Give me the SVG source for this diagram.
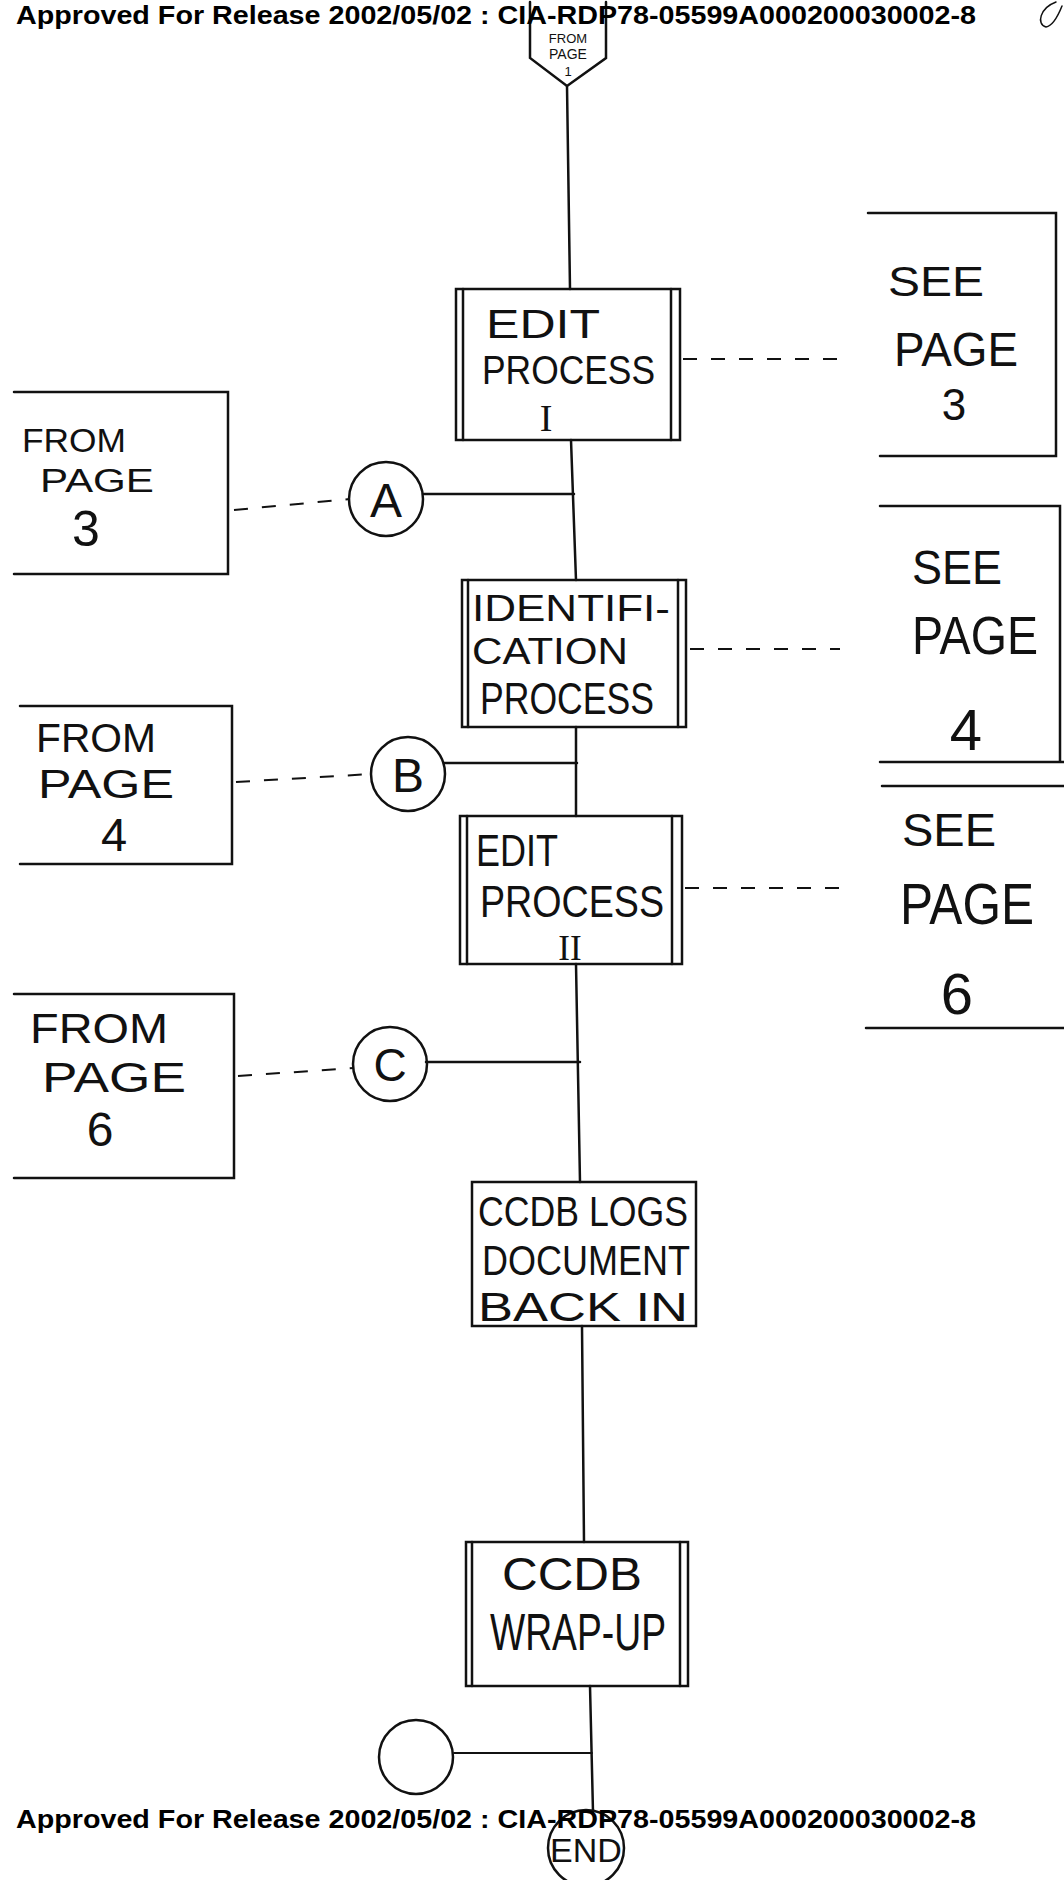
<svg xmlns="http://www.w3.org/2000/svg" width="1064" height="1880" viewBox="0 0 1064 1880">
<style>
.ln{fill:none;stroke:#111;stroke-width:2.5;stroke-linecap:round}
.dash{fill:none;stroke:#111;stroke-width:2;stroke-dasharray:14 14}
.hw{font-family:"Liberation Sans","DejaVu Sans",sans-serif;fill:#111}
.rom{font-family:"Liberation Serif","DejaVu Serif",serif;fill:#111}
.hdr{font-family:"Liberation Sans",Arial,sans-serif;font-weight:bold;font-size:26px;fill:#000}
</style>
<rect width="1064" height="1880" fill="#fff"/>

<g id="connectors">
<path class="ln" d="M567 86 L570 289"/>
<path class="ln" d="M571 440 L576 580"/>
<path class="ln" d="M576 727 L576 816"/>
<path class="ln" d="M576 964 L580 1182"/>
<path class="ln" d="M582 1326 L584 1542"/>
<path class="ln" d="M590 1686 L593 1812"/>
<path class="ln" d="M423 494 L574 494"/>
<path class="ln" d="M444 763 L577 763"/>
<path class="ln" d="M426 1062 L580 1062"/>
<path class="ln" d="M454 1753 L592 1753" style="stroke-width:1.8"/>
<path class="dash" d="M683 359 L840 359"/>
<path class="dash" d="M690 649 L840 649"/>
<path class="dash" d="M685 888 L840 888"/>
<path class="dash" d="M234 510 L350 499"/>
<path class="dash" d="M236 782 L372 774"/>
<path class="dash" d="M238 1076 L354 1068"/>
</g>

<g id="from-page-1">
<path class="ln" d="M530 2 L530 58 L567 86 L606 58 L606 2"/>
<text class="hw" x="568" y="43" font-size="13" text-anchor="middle">FROM</text>
<text class="hw" x="568" y="59" font-size="14" text-anchor="middle">PAGE</text>
<text class="hw" x="568" y="76" font-size="13" text-anchor="middle">1</text>
</g>

<g id="edit-process-1">
<rect class="ln" x="456" y="289" width="224" height="151"/>
<path class="ln" d="M463 289 V440 M671 289 V440"/>
<text class="hw" x="486" y="338" font-size="40" textLength="114" lengthAdjust="spacingAndGlyphs">EDIT</text>
<text class="hw" x="482" y="384" font-size="40" textLength="173" lengthAdjust="spacingAndGlyphs">PROCESS</text>
<text class="rom" x="546" y="431" font-size="38" text-anchor="middle">I</text>
</g>

<g id="see-page-3">
<path class="ln" d="M868 213 L1056 213 L1056 456 L880 456"/>
<text class="hw" x="888" y="296" font-size="42" textLength="96" lengthAdjust="spacingAndGlyphs">SEE</text>
<text class="hw" x="894" y="366" font-size="48" textLength="124" lengthAdjust="spacingAndGlyphs">PAGE</text>
<text class="hw" x="954" y="420" font-size="44" text-anchor="middle">3</text>
</g>

<g id="from-page-3">
<path class="ln" d="M14 392 L228 392 L228 574 L14 574"/>
<text class="hw" x="22" y="452" font-size="34" textLength="104" lengthAdjust="spacingAndGlyphs">FROM</text>
<text class="hw" x="40" y="492" font-size="34" textLength="114" lengthAdjust="spacingAndGlyphs">PAGE</text>
<text class="hw" x="86" y="546" font-size="50" text-anchor="middle">3</text>
</g>

<g id="connector-a">
<circle class="ln" cx="386" cy="499" r="37"/>
<text class="hw" x="386" y="517" font-size="48" text-anchor="middle">A</text>
</g>

<g id="identification-process">
<rect class="ln" x="462" y="580" width="224" height="147"/>
<path class="ln" d="M468 580 V727 M678 580 V727"/>
<text class="hw" x="472" y="621" font-size="37" textLength="198" lengthAdjust="spacingAndGlyphs">IDENTIFI-</text>
<text class="hw" x="472" y="664" font-size="37" textLength="156" lengthAdjust="spacingAndGlyphs">CATION</text>
<text class="hw" x="480" y="714" font-size="44" textLength="174" lengthAdjust="spacingAndGlyphs">PROCESS</text>
</g>

<g id="see-page-4">
<path class="ln" d="M880 506 L1060 506 L1060 762 M880 762 L1064 762"/>
<text class="hw" x="912" y="584" font-size="48" textLength="90" lengthAdjust="spacingAndGlyphs">SEE</text>
<text class="hw" x="912" y="654" font-size="54" textLength="126" lengthAdjust="spacingAndGlyphs">PAGE</text>
<text class="hw" x="966" y="750" font-size="58" text-anchor="middle">4</text>
</g>

<g id="from-page-4">
<path class="ln" d="M20 706 L232 706 L232 864 L20 864"/>
<text class="hw" x="36" y="752" font-size="40" textLength="120" lengthAdjust="spacingAndGlyphs">FROM</text>
<text class="hw" x="38" y="798" font-size="40" textLength="136" lengthAdjust="spacingAndGlyphs">PAGE</text>
<text class="hw" x="114" y="851" font-size="47" text-anchor="middle">4</text>
</g>

<g id="connector-b">
<circle class="ln" cx="408" cy="774" r="37"/>
<text class="hw" x="408" y="792" font-size="48" text-anchor="middle">B</text>
</g>

<g id="edit-process-2">
<rect class="ln" x="460" y="816" width="222" height="148"/>
<path class="ln" d="M467 816 V964 M672 816 V964"/>
<text class="hw" x="476" y="866" font-size="44" textLength="82" lengthAdjust="spacingAndGlyphs">EDIT</text>
<text class="hw" x="480" y="917" font-size="44" textLength="184" lengthAdjust="spacingAndGlyphs">PROCESS</text>
<text class="rom" x="570" y="960" font-size="35" text-anchor="middle">II</text>
</g>

<g id="see-page-6">
<path class="ln" d="M882 786 L1064 786 M866 1028 L1064 1028"/>
<text class="hw" x="902" y="846" font-size="46" textLength="94" lengthAdjust="spacingAndGlyphs">SEE</text>
<text class="hw" x="900" y="924" font-size="58" textLength="134" lengthAdjust="spacingAndGlyphs">PAGE</text>
<text class="hw" x="957" y="1014" font-size="58" text-anchor="middle">6</text>
</g>

<g id="from-page-6">
<path class="ln" d="M14 994 L234 994 L234 1178 L14 1178"/>
<text class="hw" x="30" y="1043" font-size="42" textLength="138" lengthAdjust="spacingAndGlyphs">FROM</text>
<text class="hw" x="42" y="1092" font-size="42" textLength="144" lengthAdjust="spacingAndGlyphs">PAGE</text>
<text class="hw" x="100" y="1146" font-size="48" text-anchor="middle">6</text>
</g>

<g id="connector-c">
<circle class="ln" cx="390" cy="1064" r="37"/>
<text class="hw" x="390" y="1081" font-size="46" text-anchor="middle">C</text>
</g>

<g id="ccdb-logs">
<rect class="ln" x="472" y="1182" width="224" height="144"/>
<text class="hw" x="478" y="1226" font-size="42" textLength="210" lengthAdjust="spacingAndGlyphs">CCDB LOGS</text>
<text class="hw" x="482" y="1275" font-size="42" textLength="208" lengthAdjust="spacingAndGlyphs">DOCUMENT</text>
<text class="hw" x="478" y="1321" font-size="41" textLength="210" lengthAdjust="spacingAndGlyphs">BACK IN</text>
</g>

<g id="ccdb-wrap-up">
<rect class="ln" x="466" y="1542" width="222" height="144"/>
<path class="ln" d="M472 1542 V1686 M680 1542 V1686"/>
<text class="hw" x="502" y="1590" font-size="46" textLength="140" lengthAdjust="spacingAndGlyphs">CCDB</text>
<text class="hw" x="490" y="1650" font-size="52" textLength="176" lengthAdjust="spacingAndGlyphs">WRAP-UP</text>
</g>

<g id="blank-connector">
<circle class="ln" cx="416" cy="1757" r="37"/>
</g>

<g id="end">
<circle class="ln" cx="586" cy="1848" r="38"/>
<text class="hw" x="586" y="1862" font-size="34" text-anchor="middle">END</text>
</g>

<path class="ln" d="M1056 2 C1040 8 1036 24 1046 27 C1052 26 1058 16 1062 6" style="stroke-width:1.5"/>

<text class="hdr" x="16" y="24" textLength="960" lengthAdjust="spacingAndGlyphs">Approved For Release 2002/05/02 : CIA-RDP78-05599A000200030002-8</text>
<text class="hdr" x="16" y="1828" textLength="960" lengthAdjust="spacingAndGlyphs">Approved For Release 2002/05/02 : CIA-RDP78-05599A000200030002-8</text>
</svg>
